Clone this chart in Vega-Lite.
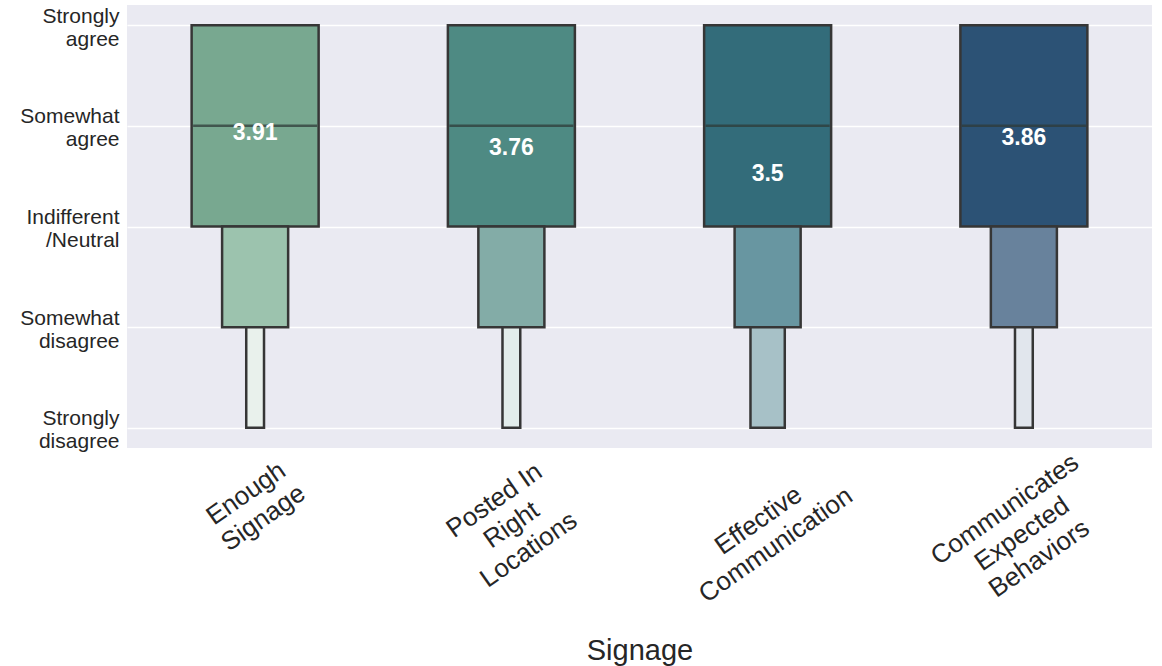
{
  "$schema": "https://vega.github.io/schema/vega-lite/v6.json",
  "width": 1025,
  "height": 443,
  "autosize": {"type": "none"},
  "padding": {"left": 127, "top": 5, "right": 10, "bottom": 218},
  "background": "white",
  "config": {
    "view": {"fill": "#EAEAF2", "stroke": null},
    "font": "Liberation Sans",
    "axis": {"labelFont": "Liberation Sans", "titleFont": "Liberation Sans", "labelColor": "#262626", "titleColor": "#262626", "titleFontWeight": "normal"}
  },
  "datasets": {
    "boxes": [
      {"category": "Enough Signage", "level": 1, "low": 3, "high": 5, "density": 1.0, "shade": "c1l1"},
      {"category": "Enough Signage", "level": 2, "low": 2, "high": 3, "density": 0.52, "shade": "c1l2"},
      {"category": "Enough Signage", "level": 3, "low": 1, "high": 2, "density": 0.14, "shade": "c1l3"},
      {"category": "Posted In Right Locations", "level": 1, "low": 3, "high": 5, "density": 1.0, "shade": "c2l1"},
      {"category": "Posted In Right Locations", "level": 2, "low": 2, "high": 3, "density": 0.52, "shade": "c2l2"},
      {"category": "Posted In Right Locations", "level": 3, "low": 1, "high": 2, "density": 0.14, "shade": "c2l3"},
      {"category": "Effective Communication", "level": 1, "low": 3, "high": 5, "density": 1.0, "shade": "c3l1"},
      {"category": "Effective Communication", "level": 2, "low": 2, "high": 3, "density": 0.52, "shade": "c3l2"},
      {"category": "Effective Communication", "level": 3, "low": 1, "high": 2, "density": 0.27, "shade": "c3l3"},
      {"category": "Communicates Expected Behaviors", "level": 1, "low": 3, "high": 5, "density": 1.0, "shade": "c4l1"},
      {"category": "Communicates Expected Behaviors", "level": 2, "low": 2, "high": 3, "density": 0.52, "shade": "c4l2"},
      {"category": "Communicates Expected Behaviors", "level": 3, "low": 1, "high": 2, "density": 0.14, "shade": "c4l3"}
    ],
    "summary": [
      {"category": "Enough Signage", "median": 4, "mean": 3.91},
      {"category": "Posted In Right Locations", "median": 4, "mean": 3.76},
      {"category": "Effective Communication", "median": 4, "mean": 3.5},
      {"category": "Communicates Expected Behaviors", "median": 4, "mean": 3.86}
    ]
  },
  "encoding": {
    "x": {
      "field": "category",
      "type": "nominal",
      "sort": ["Enough Signage", "Posted In Right Locations", "Effective Communication", "Communicates Expected Behaviors"],
      "scale": {"paddingInner": 0, "paddingOuter": 0},
      "axis": {
        "title": "Signage",
        "titleFontSize": 29,
        "titleBaseline": "alphabetic",
        "titleY": 211,
        "domain": false,
        "ticks": false,
        "grid": false,
        "labelAngle": -35,
        "labelAlign": "center",
        "labelBaseline": "middle",
        "labelFontSize": 26,
        "labelLineHeight": 30,
        "labelLimit": 0,
        "labelOverlap": false,
        "labelBound": false,
        "labelFlush": false,
        "labelExpr": "datum.value == 'Posted In Right Locations' ? ['Posted In', 'Right', 'Locations'] : split(datum.value, ' ')",
        "labelPadding": {"condition": [
          {"test": "datum.value == 'Enough Signage'", "value": 45},
          {"test": "datum.value == 'Posted In Right Locations'", "value": 52},
          {"test": "datum.value == 'Effective Communication'", "value": 72}
        ], "value": 61},
        "labelOffset": {"condition": [
          {"test": "datum.value == 'Enough Signage'", "value": -9},
          {"test": "datum.value == 'Posted In Right Locations'", "value": -17},
          {"test": "datum.value == 'Effective Communication'", "value": -9}
        ], "value": -19}
      }
    }
  },
  "layer": [
    {
      "data": {"name": "boxes"},
      "mark": {"type": "bar", "stroke": "#363636", "strokeWidth": 2.5},
      "encoding": {
        "y": {
          "field": "low",
          "type": "quantitative",
          "scale": {"domain": [0.8, 5.2], "nice": false, "zero": false},
          "axis": {
            "title": null,
            "values": [1, 2, 3, 4, 5],
            "domain": false,
            "ticks": false,
            "grid": true,
            "gridColor": "white",
            "gridWidth": 1.5,
            "labelFontSize": 21,
            "labelPadding": 8,
            "labelOffset": -9,
            "labelAlign": "right",
            "labelBaseline": "middle",
            "labelLineHeight": 23,
            "labelOverlap": false,
            "labelBound": false,
            "labelFlush": false,
            "labelExpr": "datum.value == 5 ? ['Strongly', 'agree'] : datum.value == 4 ? ['Somewhat', 'agree'] : datum.value == 3 ? ['Indifferent', '/Neutral'] : datum.value == 2 ? ['Somewhat', 'disagree'] : ['Strongly', 'disagree']"
          }
        },
        "y2": {"field": "high"},
        "size": {"field": "density", "type": "quantitative", "scale": {"type": "linear", "domain": [0, 1], "range": [0, 127], "zero": true}, "legend": null},
        "color": {
          "field": "shade",
          "type": "nominal",
          "legend": null,
          "scale": {
            "domain": ["c1l1", "c1l2", "c1l3", "c2l1", "c2l2", "c2l3", "c3l1", "c3l2", "c3l3", "c4l1", "c4l2", "c4l3"],
            "range": ["#78A890", "#9CC3AE", "#E9F1EC", "#4E8A83", "#83ACA7", "#E3EDEB", "#336C7A", "#6896A1", "#A7C1C7", "#2C5275", "#68829C", "#E1E6ED"]
          }
        },
        "opacity": {"value": 1}
      }
    },
    {
      "data": {"name": "summary"},
      "mark": {"type": "tick", "size": 124, "thickness": 2.5, "color": "#2F3B38", "opacity": 0.75},
      "encoding": {
        "y": {"field": "median", "type": "quantitative"}
      }
    },
    {
      "data": {"name": "summary"},
      "mark": {"type": "text", "color": "white", "fontWeight": "bold", "fontSize": 23, "baseline": "middle", "align": "center", "dy": -2},
      "encoding": {
        "y": {"field": "mean", "type": "quantitative"},
        "text": {"field": "mean", "type": "quantitative", "format": ".3~f"}
      }
    }
  ]
}
